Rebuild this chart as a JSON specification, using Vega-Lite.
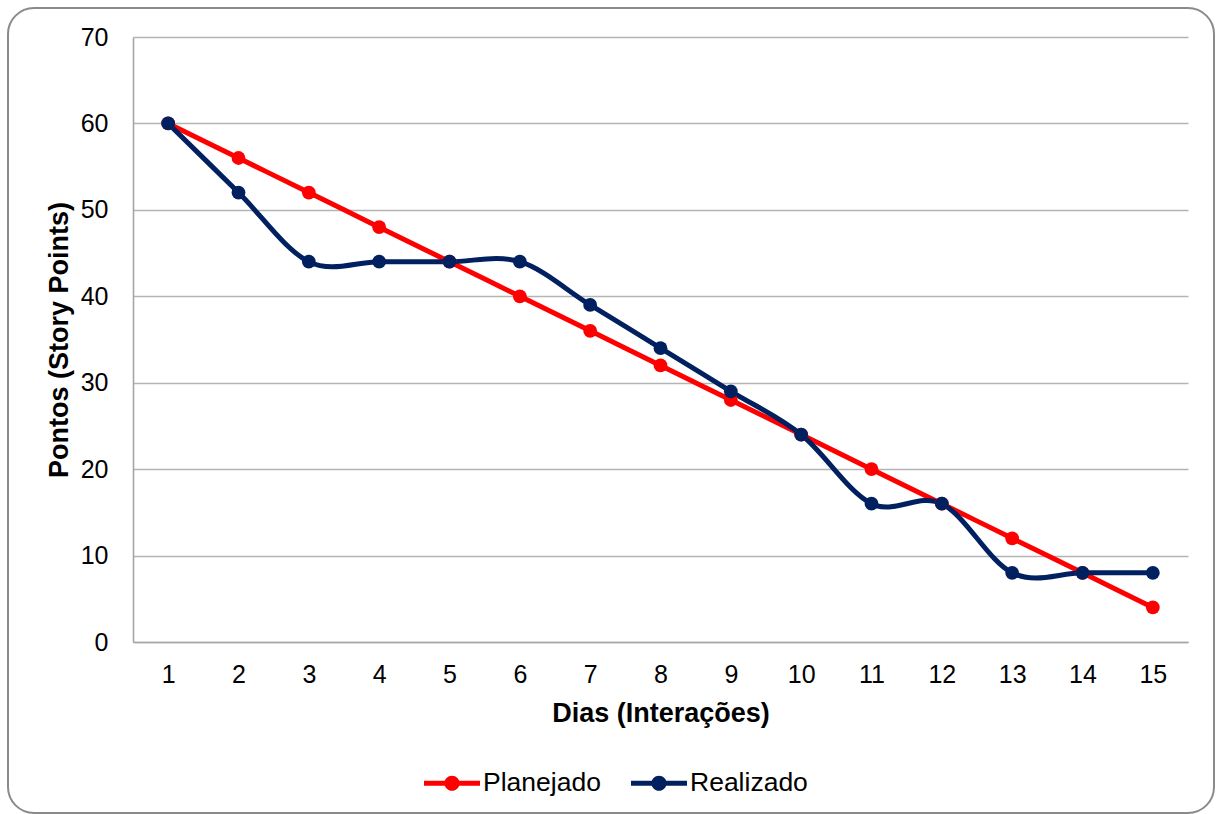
{
  "$schema": "https://vega.github.io/schema/vega-lite/v6.json",
  "width": 1206,
  "height": 805,
  "autosize": {"type": "none"},
  "padding": {"left": 8, "top": 8, "right": 2, "bottom": 1},
  "background": "#ffffff",
  "config": {
    "font": "Liberation Sans",
    "view": {"stroke": "#8a8a8a", "strokeWidth": 2, "cornerRadius": 26, "fill": "#ffffff"},
    "axis": {
      "labelFont": "Liberation Sans",
      "titleFont": "Liberation Sans",
      "labelColor": "#000000",
      "titleColor": "#000000",
      "labelFontSize": 25,
      "titleFontSize": 27,
      "titleFontWeight": "bold",
      "ticks": false,
      "tickSize": 0,
      "domainColor": "#a6a6a6",
      "domainWidth": 1.6,
      "gridColor": "#b4b4b4",
      "gridWidth": 1.5
    },
    "legend": {
      "labelFont": "Liberation Sans",
      "labelFontSize": 26.5,
      "labelColor": "#000000"
    }
  },
  "data": {
    "values": [
      {"dia": 1, "serie": "Planejado", "pontos": 60},
      {"dia": 2, "serie": "Planejado", "pontos": 56},
      {"dia": 3, "serie": "Planejado", "pontos": 52},
      {"dia": 4, "serie": "Planejado", "pontos": 48},
      {"dia": 5, "serie": "Planejado", "pontos": 44},
      {"dia": 6, "serie": "Planejado", "pontos": 40},
      {"dia": 7, "serie": "Planejado", "pontos": 36},
      {"dia": 8, "serie": "Planejado", "pontos": 32},
      {"dia": 9, "serie": "Planejado", "pontos": 28},
      {"dia": 10, "serie": "Planejado", "pontos": 24},
      {"dia": 11, "serie": "Planejado", "pontos": 20},
      {"dia": 12, "serie": "Planejado", "pontos": 16},
      {"dia": 13, "serie": "Planejado", "pontos": 12},
      {"dia": 14, "serie": "Planejado", "pontos": 8},
      {"dia": 15, "serie": "Planejado", "pontos": 4},
      {"dia": 1, "serie": "Realizado", "pontos": 60},
      {"dia": 2, "serie": "Realizado", "pontos": 52},
      {"dia": 3, "serie": "Realizado", "pontos": 44},
      {"dia": 4, "serie": "Realizado", "pontos": 44},
      {"dia": 5, "serie": "Realizado", "pontos": 44},
      {"dia": 6, "serie": "Realizado", "pontos": 44},
      {"dia": 7, "serie": "Realizado", "pontos": 39},
      {"dia": 8, "serie": "Realizado", "pontos": 34},
      {"dia": 9, "serie": "Realizado", "pontos": 29},
      {"dia": 10, "serie": "Realizado", "pontos": 24},
      {"dia": 11, "serie": "Realizado", "pontos": 16},
      {"dia": 12, "serie": "Realizado", "pontos": 16},
      {"dia": 13, "serie": "Realizado", "pontos": 8},
      {"dia": 14, "serie": "Realizado", "pontos": 8},
      {"dia": 15, "serie": "Realizado", "pontos": 8}
    ]
  },
  "mark": {
    "type": "line",
    "interpolate": "cardinal",
    "strokeWidth": 5,
    "point": {"filled": true, "size": 190, "opacity": 1}
  },
  "encoding": {
    "x": {
      "field": "dia",
      "type": "quantitative",
      "scale": {"domain": [0.5, 15.5], "range": [125, 1180], "nice": false, "zero": false},
      "axis": {
        "title": "Dias (Interações)",
        "values": [1, 2, 3, 4, 5, 6, 7, 8, 9, 10, 11, 12, 13, 14, 15],
        "format": "d",
        "grid": false,
        "offset": -171,
        "labelPadding": 20,
        "titlePadding": 13
      }
    },
    "y": {
      "field": "pontos",
      "type": "quantitative",
      "scale": {"domain": [0, 70], "range": [634, 29], "nice": false},
      "axis": {
        "title": "Pontos (Story Points)",
        "values": [0, 10, 20, 30, 40, 50, 60, 70],
        "grid": true,
        "offset": -125,
        "labelPadding": 25,
        "titlePadding": 7
      }
    },
    "color": {
      "field": "serie",
      "type": "nominal",
      "scale": {"domain": ["Planejado", "Realizado"], "range": ["#ff0000", "#002060"]},
      "legend": {
        "title": null,
        "orient": "none",
        "direction": "horizontal",
        "legendX": 416,
        "legendY": 747,
        "symbolType": "M-1,-0.085H1V0.085H-1Z M-0.27,0A0.27,0.27 0 1,1 0.27,0A0.27,0.27 0 1,1 -0.27,0Z",
        "symbolSize": 3136,
        "symbolStrokeWidth": 0,
        "labelOffset": 3,
        "columnPadding": 30,
        "encode": {
          "symbols": {
            "update": {
              "fill": {"scale": "color", "field": "value"},
              "stroke": {"value": "transparent"}
            }
          }
        }
      }
    }
  }
}
